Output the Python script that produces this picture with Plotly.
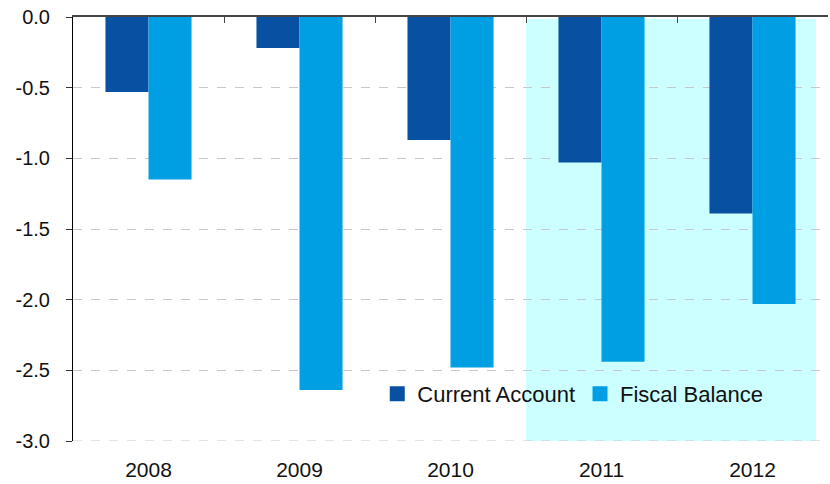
import plotly.graph_objects as go

years = ["2008", "2009", "2010", "2011", "2012"]
current_account = [-0.53, -0.22, -0.87, -1.03, -1.39]
fiscal_balance = [-1.15, -2.64, -2.48, -2.44, -2.03]
y_ticks = [0.0, -0.5, -1.0, -1.5, -2.0, -2.5, -3.0]
ca_color = "#0850A2"
fb_color = "#009FE3"

fig = go.Figure()
fig.add_trace(go.Bar(x=years, y=current_account, name="Current Account",
                     marker=dict(color=ca_color, line=dict(width=0)), showlegend=False))
fig.add_trace(go.Bar(x=years, y=fiscal_balance, name="Fiscal Balance",
                     marker=dict(color=fb_color, line=dict(width=0)), showlegend=False))
# legend entries with square markers
for nm, col in [("Current Account", ca_color), ("Fiscal Balance", fb_color)]:
    fig.add_trace(go.Scatter(x=[None], y=[None], mode="markers", name=nm,
                             marker=dict(symbol="square", size=15, color=col)))

# forecast shading
fig.add_shape(type="rect", xref="x", yref="y", x0=2.5, x1=4.42, y0=-3.0, y1=-0.015,
              fillcolor="#CCFFFF", line=dict(width=0), layer="below")
# bottom gridline at -3.0
fig.add_shape(type="line", xref="paper", yref="y", x0=0, x1=1, y0=-3.0, y1=-3.0,
              line=dict(color="#C8C8C8", width=1, dash="dash"), layer="above")

fig.update_layout(
    width=830, height=484,
    margin=dict(l=73, r=2, t=17, b=43),
    paper_bgcolor="white", plot_bgcolor="rgba(0,0,0,0)",
    barmode="group", bargap=0.43, bargroupgap=0,
    font=dict(family="Liberation Sans, Arial, sans-serif", size=22, color="#111111"),
    showlegend=True,
    legend=dict(orientation="h", x=0.403, y=0.111, xanchor="left", yanchor="middle",
                bgcolor="rgba(0,0,0,0)", font=dict(size=22), itemwidth=30,
                traceorder="normal"),
    xaxis=dict(type="category", showline=False, ticks="", showgrid=False,
               tickfont=dict(size=21), zeroline=False, automargin=False,
               ticklabelstandoff=14),
    xaxis2=dict(overlaying="x", side="top", range=[-0.5, 4.5], showline=True,
                linecolor="#444444", linewidth=1.5, ticks="inside", ticklen=6,
                tickcolor="#444444", tickvals=[0.5, 1.5, 2.5, 3.5, 4.5],
                showticklabels=False,
                showgrid=False, zeroline=False, anchor="y", automargin=False),
    yaxis=dict(range=[-3.0, 0.0], tickvals=y_ticks,
               ticktext=[f"{v:.1f}" for v in y_ticks],
               showline=True, linecolor="black", linewidth=1, ticks="outside",
               ticklen=6, tickcolor="#333333",
               showgrid=True, gridcolor="#C8C8C8", griddash="dash", gridwidth=1,
               zeroline=False, tickfont=dict(size=20), automargin=False,
               ticklabelstandoff=12),
)
# invisible trace so the top axis renders
fig.add_trace(go.Scatter(x=[0], y=[0], xaxis="x2", yaxis="y", mode="markers",
                         marker=dict(opacity=0), showlegend=False, hoverinfo="skip"))

fig.write_html("out.html", config={"displayModeBar": False},
               post_script="document.body.style.margin='0';document.body.style.padding='0';")
